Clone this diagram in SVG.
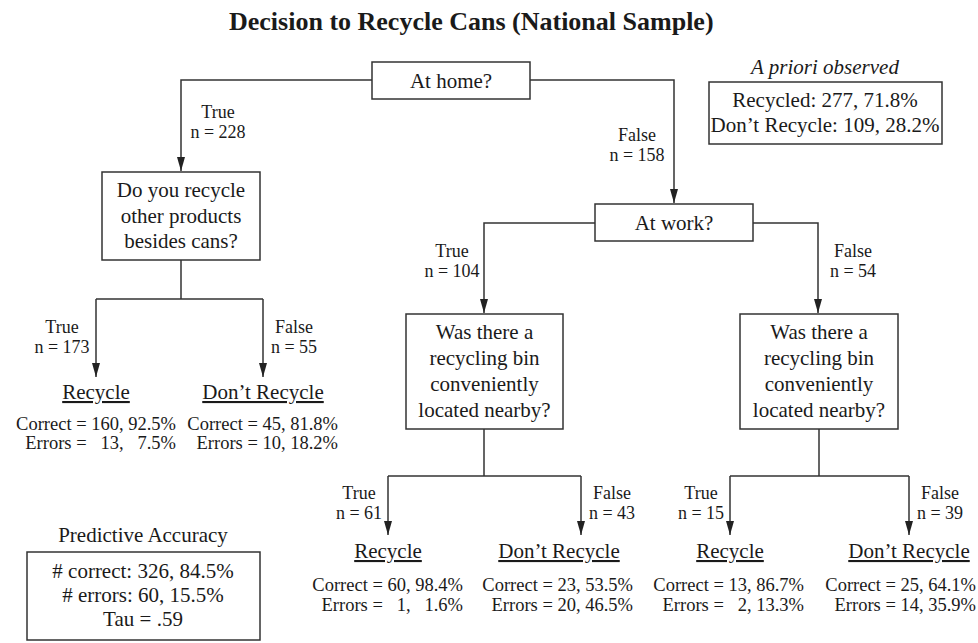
<svg xmlns="http://www.w3.org/2000/svg" width="978" height="643" viewBox="0 0 978 643">
<style>
text{font-family:"Liberation Serif","Times New Roman",serif;fill:#1a1a1a}
.t{font-size:26px;font-weight:bold}
.b{font-size:21px;text-anchor:middle}
.i{font-size:21px;text-anchor:middle;font-style:italic}
.l{font-size:18px;text-anchor:middle}
.s{font-size:18.5px;text-anchor:end}
.leaf{font-size:21px;text-anchor:middle;text-decoration:underline}
rect{fill:#fff;stroke:#333;stroke-width:1.5}
.c path{fill:none;stroke:#333;stroke-width:1.5}
</style>
<defs>
<marker id="ar" viewBox="0 0 14 8" refX="14" refY="4" markerWidth="14" markerHeight="8" markerUnits="userSpaceOnUse" orient="auto">
<path d="M0,0 L14,4 L0,8 z" fill="#222"/>
</marker>
</defs>
<rect width="978" height="643" style="fill:#fff;stroke:none"/>
<text class="t" x="229" y="30">Decision to Recycle Cans (National Sample)</text>

<g class="c" id="connectors">
<path d="M372,80 H181 V171" marker-end="url(#ar)"/>
<path d="M530,80 H674 V203" marker-end="url(#ar)"/>
<path d="M595,223 H484 V313" marker-end="url(#ar)"/>
<path d="M753,223 H818 V313" marker-end="url(#ar)"/>
<path d="M181,260 V299 M96,299 H263"/>
<path d="M96,299 V377" marker-end="url(#ar)"/>
<path d="M263,299 V377" marker-end="url(#ar)"/>
<path d="M484,429 V476 M388,476 H581"/>
<path d="M388,476 V535" marker-end="url(#ar)"/>
<path d="M581,476 V535" marker-end="url(#ar)"/>
<path d="M819,429 V476 M730,476 H909"/>
<path d="M730,476 V535" marker-end="url(#ar)"/>
<path d="M909,476 V535" marker-end="url(#ar)"/>
</g>

<g id="labels">
<text class="l" x="218" y="118">True</text><text class="l" x="218" y="138">n = 228</text>
<text class="l" x="637" y="141">False</text><text class="l" x="637" y="161">n = 158</text>
<text class="l" x="452" y="257">True</text><text class="l" x="452" y="277">n = 104</text>
<text class="l" x="853" y="257">False</text><text class="l" x="853" y="277">n = 54</text>
<text class="l" x="62" y="333">True</text><text class="l" x="62" y="353">n = 173</text>
<text class="l" x="294" y="333">False</text><text class="l" x="294" y="353">n = 55</text>
<text class="l" x="359" y="499">True</text><text class="l" x="359" y="519">n = 61</text>
<text class="l" x="612" y="499">False</text><text class="l" x="612" y="519">n = 43</text>
<text class="l" x="701" y="499">True</text><text class="l" x="701" y="519">n = 15</text>
<text class="l" x="940" y="499">False</text><text class="l" x="940" y="519">n = 39</text>
</g>

<g id="n-home">
<rect x="372" y="62" width="158" height="37"/>
<text class="b" x="451" y="88">At home?</text>
</g>
<g id="n-apriori">
<text class="i" x="825" y="74">A priori observed</text>
<rect x="709" y="82" width="233" height="62"/>
<text class="b" x="825" y="107">Recycled: 277, 71.8%</text>
<text class="b" x="825" y="132">Don’t Recycle: 109, 28.2%</text>
</g>
<g id="n-other">
<rect x="102" y="172" width="158" height="88"/>
<text class="b" x="181" y="197">Do you recycle</text>
<text class="b" x="181" y="223">other products</text>
<text class="b" x="181" y="248">besides cans?</text>
</g>
<g id="n-work">
<rect x="595" y="204" width="158" height="37"/>
<text class="b" x="674" y="230">At work?</text>
</g>
<g id="n-bin1">
<rect x="406" y="314" width="157" height="115"/>
<text class="b" x="484.5" y="339">Was there a</text>
<text class="b" x="484.5" y="365">recycling bin</text>
<text class="b" x="484.5" y="391">conveniently</text>
<text class="b" x="484.5" y="417">located nearby?</text>
</g>
<g id="n-bin2">
<rect x="740" y="314" width="158" height="115"/>
<text class="b" x="819" y="339">Was there a</text>
<text class="b" x="819" y="365">recycling bin</text>
<text class="b" x="819" y="391">conveniently</text>
<text class="b" x="819" y="417">located nearby?</text>
</g>

<g id="leaf1">
<text class="leaf" x="96" y="399">Recycle</text>
<text class="s" x="176" y="430">Correct = 160, 92.5%</text>
<text class="s" x="176" y="449">Errors = &#x2007;13, &#x2007;7.5%</text>
</g>
<g id="leaf2">
<text class="leaf" x="263" y="399">Don’t Recycle</text>
<text class="s" x="338" y="430">Correct = 45, 81.8%</text>
<text class="s" x="338" y="449">Errors = 10, 18.2%</text>
</g>
<g id="leaf3">
<text class="leaf" x="388" y="558">Recycle</text>
<text class="s" x="463" y="591">Correct = 60, 98.4%</text>
<text class="s" x="463" y="611">Errors = &#x2007;1, &#x2007;1.6%</text>
</g>
<g id="leaf4">
<text class="leaf" x="559" y="558">Don’t Recycle</text>
<text class="s" x="633" y="591">Correct = 23, 53.5%</text>
<text class="s" x="633" y="611">Errors = 20, 46.5%</text>
</g>
<g id="leaf5">
<text class="leaf" x="730" y="558">Recycle</text>
<text class="s" x="804" y="591">Correct = 13, 86.7%</text>
<text class="s" x="804" y="611">Errors = &#x2007;2, 13.3%</text>
</g>
<g id="leaf6">
<text class="leaf" x="909" y="558">Don’t Recycle</text>
<text class="s" x="976" y="591">Correct = 25, 64.1%</text>
<text class="s" x="976" y="611">Errors = 14, 35.9%</text>
</g>

<g id="n-accuracy">
<text class="b" x="143" y="542">Predictive Accuracy</text>
<rect x="27" y="552" width="233" height="88"/>
<text class="b" x="143" y="578">&#35; correct: 326, 84.5%</text>
<text class="b" x="143" y="602">&#35; errors: 60, 15.5%</text>
<text class="b" x="143" y="626">Tau = .59</text>
</g>
</svg>
